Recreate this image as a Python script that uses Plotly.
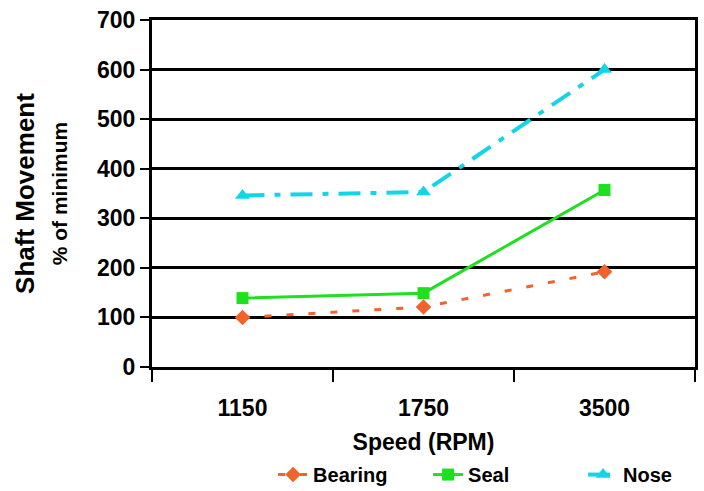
import plotly.graph_objects as go

speeds = ["1150", "1750", "3500"]
bearing = [100, 121, 192]
seal = [139, 149, 357]
nose = [346, 353, 600]

fig = go.Figure()
fig.add_trace(go.Scatter(x=speeds, y=bearing, name="Bearing", mode="lines+markers",
                         line=dict(color="#f2632b", width=3, dash="7px,15px"),
                         marker=dict(symbol="diamond", size=12, color="#f2632b")))
fig.add_trace(go.Scatter(x=speeds, y=seal, name="Seal", mode="lines+markers",
                         line=dict(color="#1fe01f", width=3),
                         marker=dict(symbol="square", size=12, color="#1fe01f")))
fig.add_trace(go.Scatter(x=speeds, y=nose, name="Nose", mode="lines+markers",
                         line=dict(color="#12d6e8", width=4, dash="22px,10px,6px,10px"),
                         marker=dict(symbol="triangle-up", size=13, color="#12d6e8")))

font = "Liberation Sans, Arial, sans-serif"
fig.update_layout(
    width=704, height=491,
    margin=dict(l=152, r=9, t=20, b=124, autoexpand=False),
    paper_bgcolor="white", plot_bgcolor="white",
    font=dict(family=font, color="black"),
    showlegend=True,
    legend=dict(orientation="h", x=0.223, xanchor="left", y=-0.31, yanchor="middle",
                font=dict(size=20, family=font, weight="bold"), tracegroupgap=0,
                entrywidth=110, entrywidthmode="pixels"),
    xaxis=dict(type="category", range=[-0.5, 2.5], tickson="boundaries", ticks="outside", ticklen=12, tickwidth=2,
               tickcolor="black", showline=True, linecolor="black", linewidth=3, mirror=True,
               showgrid=False, tickfont=dict(size=23, weight="bold"), ticklabelstandoff=18,
               automargin=False,
               title=dict(text="Speed (RPM)", font=dict(size=23, weight="bold"), standoff=15)),
    yaxis=dict(range=[0, 700], dtick=100, ticks="outside", ticklen=9, tickwidth=2, tickcolor="black",
               showline=True, linecolor="black", linewidth=3, mirror=True,
               showgrid=True, gridcolor="black", gridwidth=3, zeroline=False,
               tickfont=dict(size=23, weight="bold"), automargin=False,
               title=dict(text="<b>Shaft Movement</b><br><span style='font-size:21px'><b>% of minimum</b></span>",
                          font=dict(size=26), standoff=22)),
)
fig.write_html("out.html")
